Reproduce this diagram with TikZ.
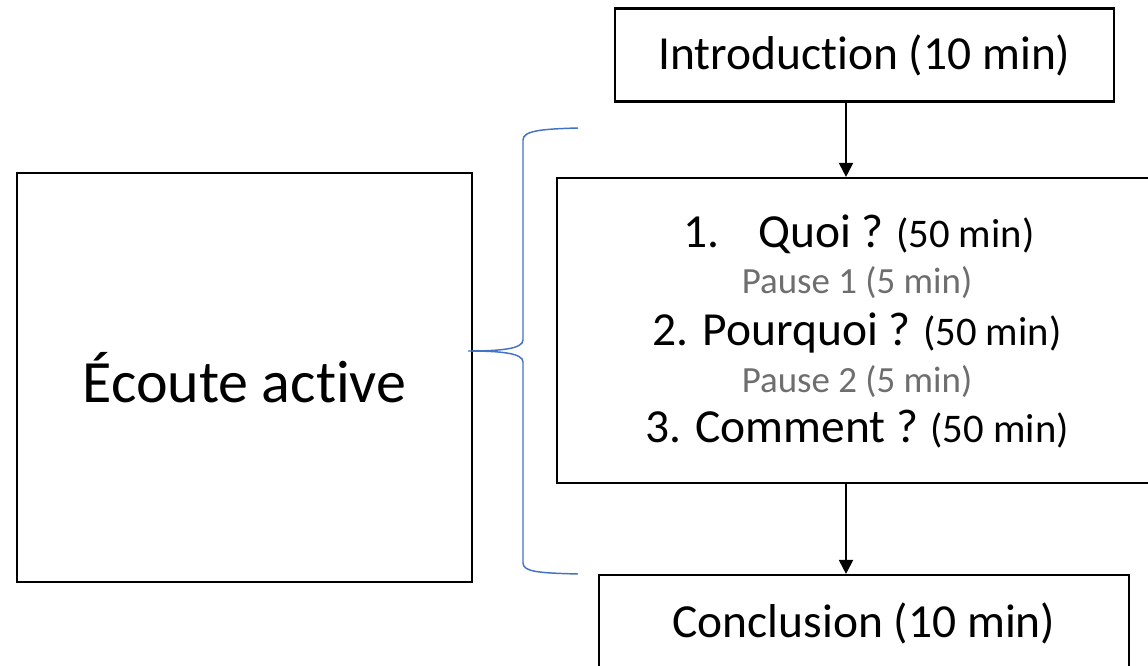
\documentclass[tikz,border=0pt]{standalone}
\usepackage{fontspec}
\setmainfont{Carlito}[Ligatures=NoCommon]
\usetikzlibrary{arrows.meta}
\definecolor{bracecol}{RGB}{68,114,196}
\definecolor{pausegray}{RGB}{110,110,110}
\newcommand{\dur}[1]{{\fontsize{30.5}{34}\selectfont #1}}

\begin{document}
\begin{tikzpicture}[
    x=0.75pt, y=-0.75pt, line width=1.6pt,
    box/.style={draw, rectangle, inner sep=0pt, font=\fontsize{35.6}{40}\selectfont},
    item/.style={anchor=base, inner sep=0pt, font=\fontsize{35.6}{40}\selectfont},
    pause/.style={item, text=pausegray, font=\fontsize{27.7}{32}\selectfont},
    flow/.style={-{Triangle[width=10.5pt,length=10.5pt]}, line width=1.5pt},
    brace/.style={draw=bracecol, line width=1.1pt}
]
    \useasboundingbox (0,0) rectangle (1148,666);
    \clip (0,0) rectangle (1148,666);

    \node[box, minimum width=374pt, minimum height=69.75pt] (intro) at (864.5,55) {Introduction (10 min)};
    \node[box, minimum width=454.5pt, minimum height=228.75pt] (lesson) at (860,330.5) {};
    \node[box, minimum width=397.5pt, minimum height=72pt] (concl) at (864,623) {Conclusion (10 min)};
    \node[box, minimum width=341.25pt, minimum height=306.75pt, font=\fontsize{45}{50}\selectfont] (ecoute) at (244.5,377.5) {Écoute active};

    % lines inside the lesson box
    \node[item]  (q1) at (859,248) {1.\hspace{29pt}Quoi ?\dur{ (50 min)}};
    \node[pause] (p1) at (857,294) {Pause 1 (5 min)};
    \node[item]  (q2) at (857,345) {2. Pourquoi ?\dur{ (50 min)}};
    \node[pause] (p2) at (857,392) {Pause 2 (5 min)};
    \node[item]  (q3) at (857,442) {3. Comment ?\dur{ (50 min)}};

    \coordinate (ax) at (846,0);
    \draw[flow] (intro.south -| ax) -- (lesson.north -| ax);
    \draw[flow] (lesson.south -| ax) -- (concl.north -| ax);

    % brace
    \draw[brace] (578,128) .. controls (540,129) and (523,131) .. (523,140) -- (523,340)
        .. controls (523,349) and (500,351) .. (468,351)
        .. controls (500,351) and (523,353) .. (523,362) -- (523,563)
        .. controls (523,572) and (540,573) .. (578,574);
\end{tikzpicture}
\end{document}
